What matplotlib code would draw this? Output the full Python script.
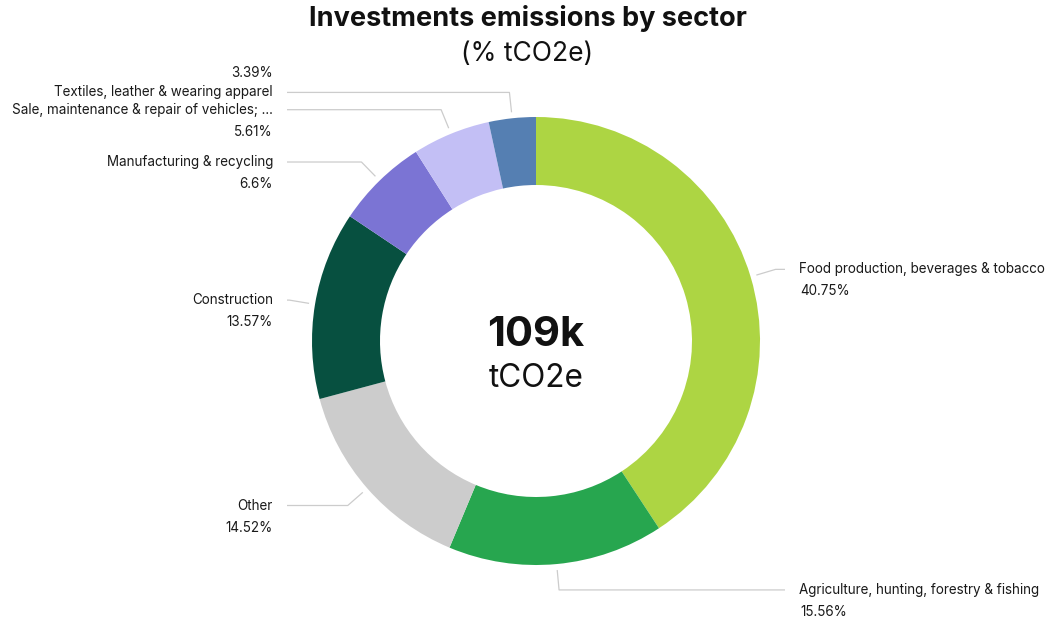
import matplotlib
matplotlib.use("Agg")
import matplotlib.pyplot as plt
import numpy as np

plt.rcParams['font.family'] = ['Inter', 'DejaVu Sans']

sectors = [
    "Food production, beverages & tobacco",
    "Agriculture, hunting, forestry & fishing",
    "Other",
    "Construction",
    "Manufacturing & recycling",
    "Sale, maintenance & repair of vehicles; ...",
    "Textiles, leather & wearing apparel",
]
shares = [40.75, 15.56, 14.52, 13.57, 6.6, 5.61, 3.39]
colors = ["#add543", "#27a64f", "#cccccc", "#075040", "#7b74d4", "#c3bff5", "#557fb2"]
# which side the label sits on, and whether the percentage goes above the name
sides = ["right", "right", "left", "left", "left", "left", "left"]
pct_above = [False, False, False, False, False, False, True]

total_label = "109k"
unit_label = "tCO2e"

W, H = 1049, 623
cx, cy = 536, H - 341
r_out, r_in = 224, 156

fig = plt.figure(figsize=(W / 100, H / 100), dpi=100)
ax = fig.add_axes([0, 0, 1, 1])

wedges, _ = ax.pie(shares, colors=colors, startangle=90, counterclock=False,
                   center=(cx, cy), radius=r_out,
                   wedgeprops=dict(width=r_out - r_in, linewidth=0))

ax.set_xlim(0, W)
ax.set_ylim(0, H)
ax.set_aspect('equal')
ax.axis('off')

line_col = "#cccccc"
text_col = "#1a1a1a"
for w, name, val, side, above in zip(wedges, sectors, shares, sides, pct_above):
    mid = np.radians((w.theta1 + w.theta2) / 2)
    p0 = (cx + 230 * np.cos(mid), cy + 230 * np.sin(mid))
    p1 = (cx + 250 * np.cos(mid), cy + 250 * np.sin(mid))
    if side == "right":
        xend, xtxt, ha = 785, 799, "left"
    else:
        xend, xtxt, ha = 287, 273, "right"
    ax.plot([p0[0], p1[0], xend], [p0[1], p1[1], p1[1]],
            color=line_col, lw=0.9, solid_capstyle='butt')
    ax.text(xtxt, p1[1] - 4, name, ha=ha, va='baseline', fontsize=9.7, color=text_col)
    dy = 19 if above else -22
    ax.text(xtxt + (1 if side == "right" else 0), p1[1] + dy - 4, f"{val:g}%",
            ha=ha, va='baseline', fontsize=9.7, color=text_col)

# centre total
ax.text(cx, H - 346, total_label, ha='center', va='baseline',
        fontsize=30, fontweight='bold', color="#111111")
ax.text(cx, H - 387, unit_label, ha='center', va='baseline',
        fontsize=22.7, color="#111111")

ax.text(W / 2 + 3, H - 26, "Investments emissions by sector", ha='center', va='baseline',
        fontsize=19.5, fontweight='bold', color="#111111")
ax.text(W / 2 + 3, H - 61, "(% tCO2e)", ha='center', va='baseline',
        fontsize=19, color="#111111")

fig.savefig("out.png", dpi=100, facecolor="white")
